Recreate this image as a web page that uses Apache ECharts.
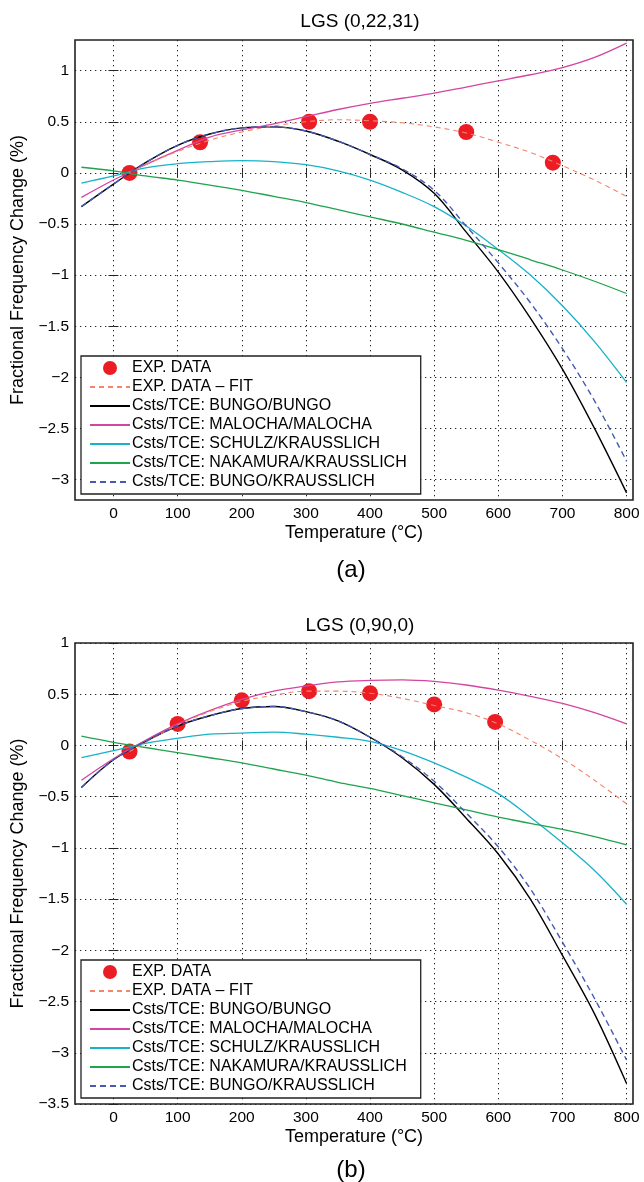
<!DOCTYPE html>
<html>
<head>
<meta charset="utf-8">
<script src="https://cdn.jsdelivr.net/npm/echarts@6/dist/echarts.min.js"></script>
<style>html,body{margin:0;padding:0;background:#fff;}#c{width:644px;height:1182px;}</style>
</head>
<body>
<div id="c"></div>
<script>
// ---- data ----
const tempGrid = [-50,0,50,100,150,200,250,300,350,400,450,500,550,600,650,700,750,800];
const fitTemps = [25,50,100,150,200,250,300,350,400,450,500,550,600,650,700,750,800];
const xTicks = [0,100,200,300,400,500,600,700,800];
const yTicksA = [-3,-2.5,-2,-1.5,-1,-0.5,0,0.5,1];
const yTicksB = [-3.5,-3,-2.5,-2,-1.5,-1,-0.5,0,0.5,1];

// (a) LGS (0,22,31)
const expTempsA = [25,135,305,400,550,685];
const expA = [0,0.3,0.5,0.5,0.4,0.1];
const fitA = [0.0,0.08,0.21,0.32,0.40,0.46,0.50,0.52,0.51,0.49,0.45,0.39,0.30,0.20,0.07,-0.07,-0.23];
const bungoA = [-0.33,-0.11,0.10,0.27,0.38,0.44,0.45,0.41,0.31,0.18,0.03,-0.20,-0.58,-0.97,-1.42,-1.92,-2.50,-3.13];
const malochaA = [-0.24,-0.07,0.08,0.22,0.35,0.42,0.48,0.55,0.62,0.68,0.73,0.78,0.84,0.90,0.96,1.03,1.13,1.27];
const schulzA = [-0.10,-0.03,0.05,0.09,0.11,0.12,0.11,0.08,0.02,-0.07,-0.19,-0.33,-0.52,-0.75,-1.00,-1.30,-1.65,-2.05];
const nakamuraA = [0.055,0.02,-0.03,-0.07,-0.12,-0.17,-0.23,-0.29,-0.36,-0.43,-0.50,-0.58,-0.66,-0.75,-0.85,-0.95,-1.06,-1.18];
const bungoKrA = [-0.33,-0.11,0.10,0.27,0.38,0.44,0.45,0.41,0.31,0.18,0.04,-0.17,-0.52,-0.88,-1.27,-1.72,-2.23,-2.82];

// (b) LGS (0,90,0)
const expTempsB = [25,100,200,305,400,500,595];
const expB = [-0.06,0.21,0.44,0.53,0.51,0.40,0.23];
const fitB = [-0.06,0.03,0.20,0.33,0.43,0.49,0.53,0.53,0.51,0.46,0.39,0.32,0.21,0.05,-0.13,-0.34,-0.57];
const bungoB = [-0.41,-0.14,0.04,0.19,0.29,0.36,0.38,0.33,0.24,0.08,-0.12,-0.38,-0.71,-1.06,-1.50,-2.05,-2.62,-3.30];
const malochaB = [-0.34,-0.13,0.05,0.21,0.34,0.45,0.53,0.58,0.62,0.635,0.64,0.625,0.59,0.54,0.48,0.41,0.32,0.21];
const schulzB = [-0.12,-0.05,0.02,0.07,0.11,0.12,0.13,0.11,0.08,0.04,-0.05,-0.17,-0.31,-0.47,-0.70,-0.95,-1.22,-1.55];
const nakamuraB = [0.09,0.03,-0.02,-0.07,-0.12,-0.17,-0.23,-0.29,-0.36,-0.42,-0.49,-0.56,-0.63,-0.70,-0.76,-0.82,-0.89,-0.97];
const bungoKrB = [-0.41,-0.14,0.04,0.19,0.29,0.36,0.38,0.33,0.24,0.08,-0.11,-0.35,-0.66,-0.99,-1.40,-1.92,-2.47,-3.07];

const names = ['EXP. DATA','EXP. DATA \u2013 FIT','Csts/TCE: BUNGO/BUNGO','Csts/TCE: MALOCHA/MALOCHA','Csts/TCE: SCHULZ/KRAUSSLICH','Csts/TCE: NAKAMURA/KRAUSSLICH','Csts/TCE: BUNGO/KRAUSSLICH'];
const colors = ['#ec1c24','#f4856c','#000000','#d4459f','#17b3c8','#1fa34c','#4659b5'];

// ---- build ----
const FONT = '"Liberation Sans", Arial, Helvetica, sans-serif';
const zip = (xs, ys) => xs.map((x, i) => [x, ys[i]]);
const fmt = v => String(v).replace('-', '\u2212');
const gridLine = {show: true, lineStyle: {color: '#222', width: 1, type: [1.3, 3.7]}};

function xAxes(gi) {
  const base = {type: 'value', gridIndex: gi, min: -60, max: 810,
    axisTick: {show: true, inside: true, length: 5, customValues: xTicks, lineStyle: {color: '#222'}},
    axisLine: {show: false}};
  return [
    Object.assign({}, base, {position: 'bottom',
      axisLabel: {customValues: xTicks, color: '#000', fontSize: 15.5, fontFamily: FONT, margin: 6, formatter: fmt},
      splitLine: gridLine,
      name: 'Temperature (\u00b0C)', nameLocation: 'middle', nameGap: 24,
      nameTextStyle: {color: '#000', fontSize: 18, fontFamily: FONT}}),
    Object.assign({}, base, {position: 'top', axisLabel: {show: false}, splitLine: {show: false}})
  ];
}
function yAxes(gi, min, max, ticks) {
  const base = {type: 'value', gridIndex: gi, min: min, max: max,
    axisTick: {show: true, inside: true, length: 5, customValues: ticks, lineStyle: {color: '#222'}},
    axisLine: {show: false}};
  return [
    Object.assign({}, base, {position: 'left',
      axisLabel: {customValues: ticks, color: '#000', fontSize: 15.5, fontFamily: FONT, margin: 6, formatter: fmt},
      splitLine: gridLine,
      name: 'Fractional Frequency Change (%)', nameLocation: 'middle', nameGap: 46,
      nameTextStyle: {color: '#000', fontSize: 18, fontFamily: FONT}}),
    Object.assign({}, base, {position: 'right', axisLabel: {show: false}, splitLine: {show: false}})
  ];
}
function seriesFor(gi, expT, exp, fit, b, m, s, n, bk) {
  const xi = gi * 2, yi = gi * 2;
  const line = (name, data, color, type, width, z) => ({
    name: name, type: 'line', xAxisIndex: xi, yAxisIndex: yi, data: data, smooth: 0.35,
    showSymbol: false, symbol: 'none', z: z || 3, animation: false,
    lineStyle: {color: color, width: width || 1.3, type: type || 'solid'},
    itemStyle: {color: color}
  });
  return [
    {name: names[0], type: 'scatter', xAxisIndex: xi, yAxisIndex: yi, data: zip(expT, exp),
     symbol: 'circle', symbolSize: 16, itemStyle: {color: colors[0], opacity: 1}, z: 2, animation: false},
    line(names[1], zip(fitTemps, fit), colors[1], [5, 4], 1.1, 4),
    line(names[2], zip(tempGrid, b), colors[2], 'solid', 1.4),
    line(names[3], zip(tempGrid, m), colors[3], 'solid', 1.3),
    line(names[4], zip(tempGrid, s), colors[4], 'solid', 1.3),
    line(names[5], zip(tempGrid, n), colors[5], 'solid', 1.3),
    line(names[6], zip(tempGrid, bk), colors[6], [6, 4], 1.4, 4)
  ];
}
function legendAt(top) {
  return {show: true, orient: 'vertical', left: 81, top: top,
    data: names.map((nm, i) => i === 0 ? {name: nm} : {name: nm, itemStyle: {opacity: 0}}),
    selectedMode: false, itemWidth: 40, itemHeight: 14, itemGap: 3,
    padding: [4, 14, 4, 8], backgroundColor: '#fff', borderColor: '#222', borderWidth: 1.3, borderRadius: 0,
    textStyle: {color: '#000', fontSize: 16, lineHeight: 14, fontFamily: FONT, padding: [0, 0, 0, -3]}};
}

const option = {
  backgroundColor: '#fff',
  animation: false,
  title: [
    {text: 'LGS (0,22,31)', top: 7, left: 355, textAlign: 'center', textStyle: {fontSize: 19, fontWeight: 'normal', color: '#000', fontFamily: FONT}},
    {text: '(a)', top: 553, left: 346, textAlign: 'center', textStyle: {fontSize: 24, fontWeight: 'normal', color: '#000', fontFamily: FONT}},
    {text: 'LGS (0,90,0)', top: 611, left: 355, textAlign: 'center', textStyle: {fontSize: 19, fontWeight: 'normal', color: '#000', fontFamily: FONT}},
    {text: '(b)', top: 1153, left: 346, textAlign: 'center', textStyle: {fontSize: 24, fontWeight: 'normal', color: '#000', fontFamily: FONT}}
  ],
  grid: [
    {left: 75, width: 558, top: 40, height: 460, show: true, borderColor: '#222', borderWidth: 1.6, backgroundColor: 'transparent'},
    {left: 75, width: 558, top: 643, height: 461, show: true, borderColor: '#222', borderWidth: 1.6, backgroundColor: 'transparent'}
  ],
  xAxis: xAxes(0).concat(xAxes(1)),
  yAxis: yAxes(0, -3.2, 1.3, yTicksA).concat(yAxes(1, -3.5, 1, yTicksB)),
  legend: [legendAt(356), legendAt(960)],
  series: seriesFor(0, expTempsA, expA, fitA, bungoA, malochaA, schulzA, nakamuraA, bungoKrA)
    .concat(seriesFor(1, expTempsB, expB, fitB, bungoB, malochaB, schulzB, nakamuraB, bungoKrB))
};
const chart = echarts.init(document.getElementById('c'), null, {renderer: 'canvas'});
chart.setOption(option);
</script>
</body>
</html>
